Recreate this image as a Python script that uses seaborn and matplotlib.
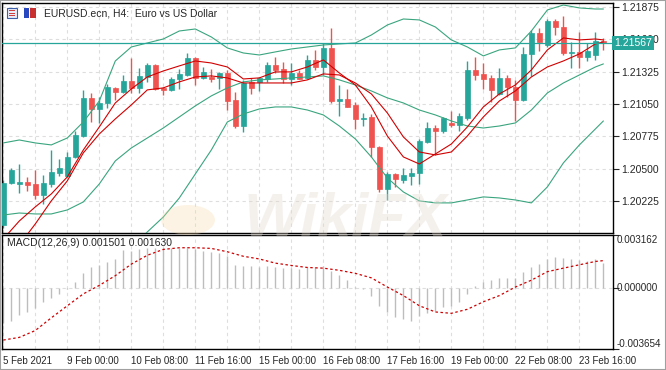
import matplotlib
matplotlib.use("Agg")
import matplotlib.pyplot as plt
import seaborn as sns
from matplotlib.patches import Rectangle, Circle

# EURUSD H4 candles, 5 Feb 2021 16:00 .. 24 Feb 2021 04:00
opens = [1.20021, 1.20379, 1.20370, 1.20387, 1.20370, 1.20277, 1.20370, 1.20464, 1.20438, 1.20600,
         1.20778, 1.21102, 1.21008, 1.21059, 1.21187, 1.21153, 1.21246, 1.21187, 1.21280, 1.21382,
         1.21187, 1.21170, 1.21263, 1.21297, 1.21442, 1.21272, 1.21280, 1.21272, 1.21314, 1.21084,
         1.20863, 1.21238, 1.21238, 1.21263, 1.21382, 1.21348, 1.21263, 1.21314, 1.21272, 1.21425,
         1.21365, 1.21527, 1.21076, 1.21093, 1.21042, 1.20923, 1.20940, 1.20685, 1.20328, 1.20455,
         1.20404, 1.20438, 1.20464, 1.20727, 1.20846, 1.20821, 1.20889, 1.20872, 1.20931, 1.21340,
         1.21306, 1.21272, 1.21136, 1.21272, 1.21195, 1.21084, 1.21476, 1.21654, 1.21552, 1.21756,
         1.21705, 1.21484, 1.21493, 1.21450, 1.21467, 1.21586]
highs = [1.20404, 1.20506, 1.20540, 1.20430, 1.20489, 1.20447, 1.20659, 1.20583, 1.20642, 1.20821,
         1.21170, 1.21144, 1.21110, 1.21221, 1.21195, 1.21297, 1.21442, 1.21357, 1.21399, 1.21391,
         1.21195, 1.21280, 1.21348, 1.21484, 1.21450, 1.21365, 1.21348, 1.21323, 1.21340, 1.21153,
         1.21255, 1.21272, 1.21280, 1.21408, 1.21450, 1.21408, 1.21399, 1.21340, 1.21467, 1.21510,
         1.21569, 1.21697, 1.21212, 1.21178, 1.21068, 1.20974, 1.20965, 1.20693, 1.20472, 1.20464,
         1.20506, 1.20506, 1.20753, 1.20897, 1.20872, 1.20940, 1.20991, 1.20974, 1.21416, 1.21450,
         1.21399, 1.21297, 1.21357, 1.21297, 1.21255, 1.21535, 1.21680, 1.21697, 1.21773, 1.21773,
         1.21799, 1.21578, 1.21663, 1.21569, 1.21663, 1.21612]
lows = [1.19996, 1.20370, 1.20294, 1.20311, 1.20243, 1.20200, 1.20345, 1.20438, 1.20430, 1.20591,
        1.20770, 1.20897, 1.20889, 1.21016, 1.21084, 1.21144, 1.21144, 1.21144, 1.21238, 1.21170,
        1.21127, 1.21161, 1.21178, 1.21289, 1.21212, 1.21263, 1.21238, 1.21178, 1.20999, 1.20846,
        1.20812, 1.21136, 1.21161, 1.21238, 1.21314, 1.21229, 1.21212, 1.21263, 1.21263, 1.21340,
        1.21297, 1.21059, 1.20948, 1.21025, 1.20838, 1.20863, 1.20600, 1.20302, 1.20234, 1.20345,
        1.20379, 1.20362, 1.20370, 1.20719, 1.20617, 1.20804, 1.20855, 1.20821, 1.20914, 1.21255,
        1.21178, 1.21068, 1.21127, 1.21110, 1.20906, 1.21076, 1.21289, 1.21501, 1.21535, 1.21637,
        1.21467, 1.21357, 1.21357, 1.21416, 1.21425, 1.21510]
closes = [1.20379, 1.20489, 1.20387, 1.20362, 1.20277, 1.20379, 1.20472, 1.20506, 1.20600, 1.20787,
          1.21102, 1.21008, 1.21059, 1.21195, 1.21153, 1.21246, 1.21187, 1.21289, 1.21382, 1.21178,
          1.21170, 1.21263, 1.21306, 1.21442, 1.21272, 1.21323, 1.21263, 1.21314, 1.21076, 1.20863,
          1.21229, 1.21187, 1.21272, 1.21382, 1.21340, 1.21263, 1.21314, 1.21263, 1.21425, 1.21365,
          1.21527, 1.21076, 1.21093, 1.21025, 1.20923, 1.20931, 1.20685, 1.20328, 1.20455, 1.20413,
          1.20447, 1.20464, 1.20736, 1.20846, 1.20821, 1.20931, 1.20872, 1.20948, 1.21340, 1.21297,
          1.21263, 1.21170, 1.21272, 1.21195, 1.21084, 1.21476, 1.21654, 1.21578, 1.21756, 1.21705,
          1.21484, 1.21493, 1.21450, 1.21501, 1.21586, 1.21567]

line_idx = list(range(0, 75, 2)) + [75]
bb_upper = [1.20719, 1.20744, 1.20719, 1.20702, 1.20761, 1.20897, 1.21076, 1.21416, 1.21535, 1.21569,
            1.21603, 1.21671, 1.21688, 1.21620, 1.21527, 1.21484, 1.21467, 1.21493, 1.21518, 1.21535,
            1.21552, 1.21561, 1.21569, 1.21637, 1.21722, 1.21773, 1.21765, 1.21705, 1.21595, 1.21535,
            1.21459, 1.21510, 1.21527, 1.21671, 1.21850, 1.21892, 1.21867, 1.21858, 1.21858]
bb_middle = [1.20106, 1.20123, 1.20115, 1.20115, 1.20149, 1.20217, 1.20370, 1.20566, 1.20676, 1.20761,
             1.20846, 1.20940, 1.21034, 1.21119, 1.21187, 1.21238, 1.21255, 1.21263, 1.21272, 1.21280,
             1.21289, 1.21255, 1.21212, 1.21161, 1.21102, 1.21059, 1.20999, 1.20957, 1.20906, 1.20863,
             1.20846, 1.20863, 1.20889, 1.20999, 1.21144, 1.21229, 1.21297, 1.21365, 1.21391]
bb_lower = [1.19494, 1.19503, 1.19511, 1.19528, 1.19537, 1.19537, 1.19664, 1.19715, 1.19817, 1.19962,
            1.20089, 1.20251, 1.20455, 1.20659, 1.20897, 1.20965, 1.21008, 1.21025, 1.21025, 1.20999,
            1.20957, 1.20863, 1.20753, 1.20600, 1.20421, 1.20302, 1.20226, 1.20209, 1.20209, 1.20234,
            1.20260, 1.20251, 1.20234, 1.20209, 1.20345, 1.20549, 1.20702, 1.20838, 1.20906]
ma_fast = [1.19902, 1.20055, 1.20175, 1.20285, 1.20430, 1.20659, 1.20855, 1.21059, 1.21178, 1.21280,
           1.21331, 1.21374, 1.21416, 1.21399, 1.21365, 1.21263, 1.21272, 1.21323, 1.21323, 1.21365,
           1.21425, 1.21314, 1.21212, 1.21025, 1.20778, 1.20600, 1.20540, 1.20625, 1.20710, 1.20855,
           1.21025, 1.21136, 1.21212, 1.21340, 1.21510, 1.21612, 1.21595, 1.21603, 1.21595]
ma_slow = [1.19707, 1.19851, 1.20030, 1.20226, 1.20396, 1.20634, 1.20795, 1.20923, 1.21042, 1.21170,
           1.21187, 1.21238, 1.21280, 1.21289, 1.21272, 1.21229, 1.21229, 1.21229, 1.21229, 1.21255,
           1.21306, 1.21297, 1.21229, 1.21136, 1.20974, 1.20770, 1.20642, 1.20617, 1.20642, 1.20778,
           1.20940, 1.21076, 1.21161, 1.21280, 1.21365, 1.21416, 1.21476, 1.21561, 1.21578]

# MACD(12,26,9): main line as bars (every candle), signal on line_idx
macd_main = [-0.00210, -0.00197, -0.00164, -0.00143, -0.00123, -0.00086, -0.00061, -0.00035, -0.00005, 0.00037,
             0.00088, 0.00123, 0.00135, 0.00156, 0.00170, 0.00225, 0.00221, 0.00231, 0.00241, 0.00241,
             0.00238, 0.00238, 0.00241, 0.00241, 0.00231, 0.00221, 0.00217, 0.00211, 0.00190, 0.00135,
             0.00129, 0.00129, 0.00123, 0.00129, 0.00123, 0.00119, 0.00119, 0.00115, 0.00123, 0.00123,
             0.00129, 0.00098, 0.00078, 0.00047, 0.00005, -0.00005, -0.00049, -0.00106, -0.00143, -0.00172,
             -0.00188, -0.00198, -0.00168, -0.00152, -0.00137, -0.00117, -0.00106, -0.00082, -0.00035, 0.00012,
             0.00033, 0.00047, 0.00057, 0.00061, 0.00057, 0.00092, 0.00123, 0.00143, 0.00170, 0.00186,
             0.00180, 0.00170, 0.00164, 0.00160, 0.00170, 0.00150]
macd_signal = [-0.00312, -0.00296, -0.00255, -0.00179, -0.00107, -0.00036, 0.00015, 0.00073, 0.00142, 0.00195,
               0.00230, 0.00240, 0.00240, 0.00236, 0.00216, 0.00189, 0.00173, 0.00148, 0.00134, 0.00122,
               0.00118, 0.00105, 0.00087, 0.00060, 0.00005, -0.00046, -0.00107, -0.00144, -0.00152, -0.00128,
               -0.00083, -0.00046, 0.00005, 0.00046, 0.00097, 0.00118, 0.00138, 0.00158, 0.00163]

time_labels = ["5 Feb 2021", "9 Feb 00:00", "10 Feb 08:00", "11 Feb 16:00", "15 Feb 00:00",
               "16 Feb 08:00", "17 Feb 16:00", "19 Feb 00:00", "22 Feb 08:00", "23 Feb 16:00"]
label_idx = [0, 8, 16, 24, 32, 40, 48, 56, 64, 72]
grid_idx = list(range(0, 76, 4))
price_ticks = [1.20225, 1.20500, 1.20775, 1.21050, 1.21325, 1.21600, 1.21875]
last_price = 1.21567
macd_ticks = [-0.003654, 0.0, 0.003162]

up_col = "#26a69a"
down_col = "#ef5350"
band_col = "#3aa57f"
ma_col = "#d00000"
grid_kw = dict(color="#dedede", lw=0.8, linestyle=(0, (3, 3)), zorder=0)

sns.set_style("white")
plt.rcParams["font.family"] = ["Liberation Sans", "DejaVu Sans"]

W, H = 666, 370
fig = plt.figure(figsize=(W / 100, H / 100), dpi=100)


def fx(x):
    return x / W


def fy(y):
    return 1 - y / H


ax = fig.add_axes([fx(2), fy(233), 611 / W, 230 / H])
ax2 = fig.add_axes([fx(2), fy(349), 611 / W, 114 / H])

xs = list(range(len(closes)))
colors = [up_col if c >= o else down_col for o, c in zip(opens, closes)]

# grid
for g in grid_idx:
    ax.axvline(g, **grid_kw)
    ax2.axvline(g, **grid_kw)
for p in price_ticks:
    ax.axhline(p, **grid_kw)
ax2.axhline(0, **grid_kw)

# candles
ax.vlines(xs, lows, highs, colors=colors, lw=1, zorder=2)
body_bottom = [min(o, c) for o, c in zip(opens, closes)]
body_h = [abs(c - o) for o, c in zip(opens, closes)]
ax.bar(xs, body_h, bottom=body_bottom, width=0.6, color=colors,
       edgecolor=colors, linewidth=0.5, zorder=3)

# bollinger bands + two moving averages
for vals in (bb_upper, bb_middle, bb_lower):
    sns.lineplot(x=line_idx, y=vals, ax=ax, color=band_col, lw=0.8, zorder=4)
sns.lineplot(x=line_idx, y=ma_slow, ax=ax, color=ma_col, lw=0.8, zorder=4)
sns.lineplot(x=line_idx, y=ma_fast, ax=ax, color=ma_col, lw=0.8, zorder=4)

ax.axhline(last_price, color=up_col, lw=0.9, zorder=5)

ax.set_xlim(-0.16, 76.2)
ax.set_ylim(1.19953, 1.21909)
ax.yaxis.tick_right()
ax.set_yticks(price_ticks, labels=[f"{p:.5f}" for p in price_ticks])
ax.tick_params(axis="y", direction="out", length=4, width=0.8, labelsize=7.5, pad=2)
ax.tick_params(axis="x", bottom=False, labelbottom=False)
ax.set_xlabel("")
ax.set_ylabel("")
ax.text(1.002, last_price, f"{last_price:.5f}", transform=ax.get_yaxis_transform(),
        ha="left", va="center", fontsize=7.5, color="white", zorder=10, clip_on=False,
        bbox=dict(facecolor=up_col, edgecolor="none", pad=1.6))

# MACD panel
ax2.vlines(xs, 0, macd_main, colors="#bdbdbd", lw=1, zorder=2)
sns.lineplot(x=line_idx, y=macd_signal, ax=ax2, color=ma_col, lw=0.9,
             linestyle=(0, (2, 2)), zorder=3)
ax2.set_xlim(-0.16, 76.2)
ax2.set_ylim(macd_ticks[0], macd_ticks[-1])
ax2.yaxis.tick_right()
ax2.set_yticks(macd_ticks, labels=["", "", ""])
ax2.tick_params(axis="y", direction="out", length=4, width=0.8, pad=2)
for v, va in zip(macd_ticks, ["bottom", "center", "top"]):
    ax2.text(1.006, v, f"{v:.6f}", transform=ax2.get_yaxis_transform(), ha="left",
             va=va, fontsize=7.1, clip_on=False)
ax2.set_xticks(label_idx, labels=time_labels, ha="left")
ax2.tick_params(axis="x", direction="out", length=4, width=0.8, labelsize=7, pad=1)
ax2.set_xlabel("")
ax2.set_ylabel("")
ax2.text(0.008, 0.93, "MACD(12,26,9) 0.001501 0.001630", transform=ax2.transAxes,
         fontsize=7.5, va="center", ha="left")

for a in (ax, ax2):
    for s in a.spines.values():
        s.set_color("black")
        s.set_linewidth(1)

# title with the two small window icons
fig.add_artist(Rectangle((fx(7), fy(18)), 10 / W, 10 / H, transform=fig.transFigure,
                         facecolor="#e8ecf8", edgecolor="#3d5fa8", lw=0.8))
for k in range(3):
    fig.add_artist(Rectangle((fx(9), fy(11 + 2.5 * k)), 6 / W, 1 / H,
                             transform=fig.transFigure, facecolor="#d04040", edgecolor="none"))
fig.add_artist(Rectangle((fx(24), fy(18)), 5 / W, 10 / H, transform=fig.transFigure,
                         facecolor="#2848c0", edgecolor="none"))
fig.add_artist(Rectangle((fx(30), fy(18)), 6 / W, 10 / H, transform=fig.transFigure,
                         facecolor="#c83030", edgecolor="none"))
fig.text(fx(44), fy(14), "EURUSD.ecn, H4:  Euro vs US Dollar", fontsize=7.5, va="center", ha="left")

# faint watermark
fig.add_artist(Circle((fx(188), fy(220)), 27 / W, transform=fig.transFigure,
                      facecolor="#f6d9a8", edgecolor="none", alpha=0.3))
fig.text(fx(345), fy(220), "WikiFX", fontsize=44, fontweight="bold", style="italic",
         color="#e2d8cd", alpha=0.35, ha="center", va="center")

fig.add_artist(Rectangle((0, 0), 1, 1, transform=fig.transFigure, fill=False,
                         edgecolor="#a0a0a0", lw=1.5))

fig.savefig("out.png", dpi=100)
